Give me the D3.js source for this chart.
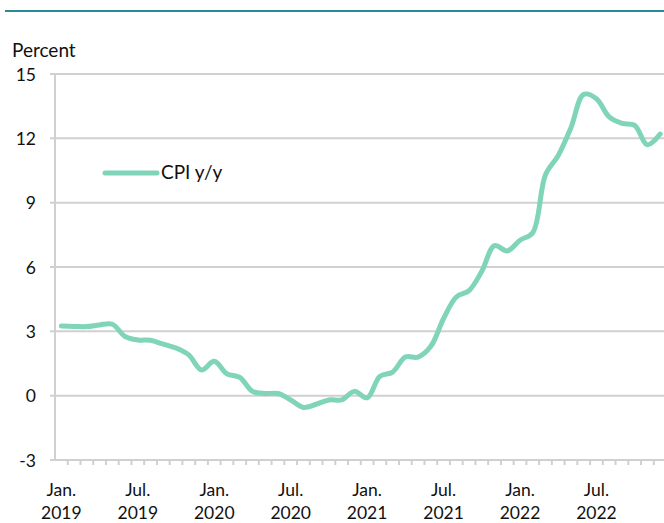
<!DOCTYPE html>
<html><head><meta charset="utf-8">
<script src="https://cdn.jsdelivr.net/npm/d3@7"></script>
<style>body{margin:0;background:#fff}svg{display:block}text{font-family:Lato,"Open Sans",sans-serif;fill:#111}</style>
</head><body><svg id="c" width="664" height="523"></svg>
<script>
const months = d3.range(48).map(i => new Date(2019, i, 1));
const cpiValues = [3.25,3.23,3.22,3.3,3.33,2.76,2.6,2.58,2.4,2.22,1.9,1.2,
  1.6,1.02,0.85,0.2,0.1,0.1,-0.2,-0.55,-0.4,-0.2,-0.2,0.2,
  -0.1,0.9,1.1,1.8,1.8,2.3,3.6,4.6,4.9,5.8,7.0,6.75,
  7.25,7.6,10.3,11.2,12.5,14.05,13.85,13.0,12.7,12.6,11.7,12.2];
const yTicks = [-3,0,3,6,9,12,15];
const xLabelIdx = [0,6,12,18,24,30,36,42];
const xLabelTop = ["Jan.","Jul.","Jan.","Jul.","Jan.","Jul.","Jan.","Jul."];
const xLabelBottom = ["2019","2019","2020","2020","2021","2021","2022","2022"];
const seriesName = "CPI y/y";

const svg = d3.select("#c");
const mLeft = 55, mTop = 74, mBottom = 460, band = 12.74;
const x = d3.scaleBand().domain(d3.range(48)).range([mLeft, mLeft + band*48]).paddingInner(0).paddingOuter(0);
const y = d3.scaleLinear().domain([-3,15]).range([mBottom, mTop]);
const cx = i => x(i) + x.bandwidth()/2;

// top rule
svg.append("line").attr("x1",5).attr("x2",664).attr("y1",11).attr("y2",11)
  .attr("stroke","#2b8a98").attr("stroke-width",2);

// gridlines
svg.append("g").selectAll("line").data(yTicks).join("line")
  .attr("x1", mLeft-5).attr("x2", 664).attr("y1", d=>y(d)).attr("y2", d=>y(d))
  .attr("stroke","#d0d0d0").attr("stroke-width",2);
// y axis line
svg.append("line").attr("x1",mLeft).attr("x2",mLeft).attr("y1",mTop).attr("y2",mBottom)
  .attr("stroke","#d0d0d0").attr("stroke-width",2);
// x ticks
svg.append("g").selectAll("line").data(d3.range(1,49)).join("line")
  .attr("x1", d=>mLeft + d*band).attr("x2", d=>mLeft + d*band)
  .attr("y1", mBottom).attr("y2", mBottom+5)
  .attr("stroke","#d0d0d0").attr("stroke-width",2);

// y labels
svg.append("g").selectAll("text").data(yTicks).join("text")
  .attr("x", 36).attr("y", d=>y(d)+6.5).attr("text-anchor","end")
  .attr("font-size",17.5).text(d=>d);
svg.append("text").attr("x",12).attr("y",57).attr("font-size",19).text("Percent");

// x labels
const xl = svg.append("g").selectAll("g").data(xLabelIdx).join("g");
xl.append("text").attr("x", d=>cx(d)).attr("y",496).attr("text-anchor","middle").attr("font-size",17.5)
  .text((d,i)=>xLabelTop[i]);
xl.append("text").attr("x", d=>cx(d)).attr("y",519).attr("text-anchor","middle").attr("font-size",17.5)
  .text((d,i)=>xLabelBottom[i]);

// series
const line = d3.line().x((d,i)=>cx(i)).y(d=>y(d)).curve(d3.curveCatmullRom.alpha(0.5));
svg.append("path").datum(cpiValues).attr("d", line).attr("fill","none")
  .attr("stroke","#7fd4b9").attr("stroke-width",5).attr("stroke-linecap","round").attr("stroke-linejoin","round");

// legend
svg.append("line").attr("x1",105).attr("x2",157).attr("y1",173).attr("y2",173)
  .attr("stroke","#7fd4b9").attr("stroke-width",5).attr("stroke-linecap","round");
svg.append("text").attr("x",161).attr("y",179).attr("font-size",19).text(seriesName);
</script></body></html>
